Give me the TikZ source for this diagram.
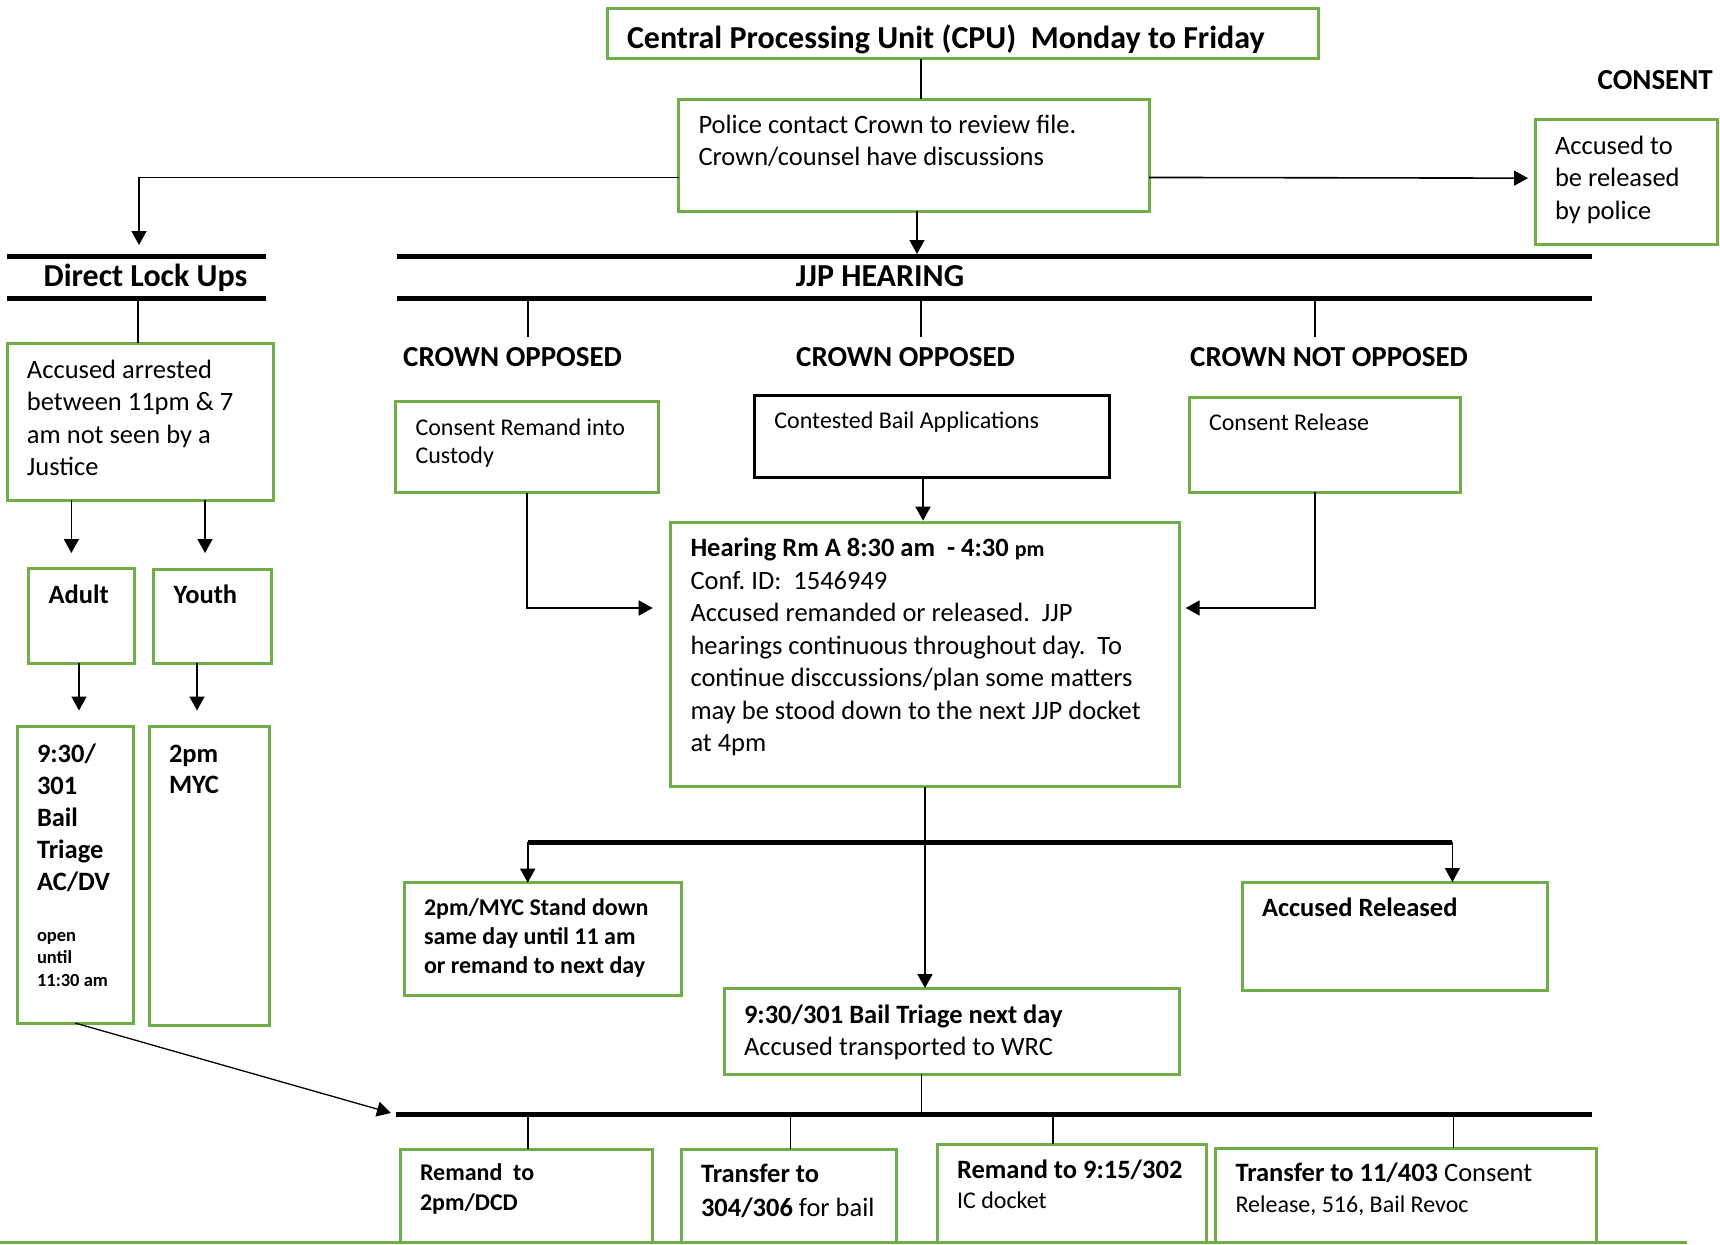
\documentclass[tikz,border=0pt]{standalone}
\usepackage{fontspec}
\setmainfont{Carlito}
\usetikzlibrary{arrows.meta}
\definecolor{boxgreen}{RGB}{112,173,71}
\newcommand{\bodytext}{\fontsize{26.5}{32.5}\selectfont}
\newcommand{\smalltext}{\fontsize{24}{29}\selectfont}
\newcommand{\tinytext}{\fontsize{18.5}{22.5}\selectfont}
\tikzstyle{gbox} = [rectangle, 
draw=boxgreen, 
line width=3pt, 
anchor=north west, 
outer sep=0pt, 
inner xsep=20pt, 
inner ysep=0pt, 
execute at begin node={\spaceskip=0pt\xspaceskip=0pt}, 
font=\bodytext]
\tikzstyle{kbox} = [gbox, draw=black]
\tikzstyle{heading} = [anchor=base west, 
inner xsep=0pt, 
inner ysep=10pt, 
font=\bfseries\fontsize{29}{35}\selectfont]
\tikzstyle{title} = [anchor=base, inner sep=0pt, font=\bfseries\fontsize{32}{38}\selectfont]
\tikzstyle{link} = [line width=1.6pt]
\tikzstyle{arrow} = [line width=1.6pt,->,>={Triangle[length=14pt,width=15pt]}]
\tikzstyle{bar} = [line width=5pt]

\begin{document}
\frenchspacing
\begin{tikzpicture}[x=1pt, y=-1pt]
		\useasboundingbox (0,0) rectangle (1720,1244);
	
		\node (cpu) [gbox, text width=671pt, text height=40pt, text depth=10pt, font=\bfseries\fontsize{32}{38}\selectfont] at (607,9) {Central Processing Unit (CPU)\ \ Monday to Friday};
		\node (police) [gbox, text width=430.5pt, text height=34pt, text depth=77.7pt] at (678.5,99.3) {Police contact Crown to review file.\\Crown/counsel have discussions};
		\node (consent) [heading, anchor=base east] at (1713,90) {CONSENT};
		\node (rel) [gbox, text width=142pt, text height=34pt, text depth=90.3pt] at (1535,120) {Accused to\\be released\\by police};
	
		\node (dlu) [title] at (145.5,286) {Direct Lock Ups};
		\node (jjp) [title] at (880,286) {JJP HEARING};
		\node (co1) [heading] at (403,366) {CROWN OPPOSED};
		\node (co2) [heading] at (796,366) {CROWN OPPOSED};
		\node (cno) [heading] at (1190,366) {CROWN NOT OPPOSED};
	
		% direct lock ups side
		\node (arrested) [gbox, text width=226pt, text height=35.3pt, text depth=121.7pt] at (7,343) {Accused arrested\\between 11pm \& 7\\am not seen by a\\Justice};
		\node (adult) [gbox, text width=65.4pt, text height=35.3pt, text depth=59.7pt, font=\bodytext\bfseries] at (28.6,568) {Adult};
		\node (youth) [gbox, text width=77.4pt, text height=34pt, text depth=60pt, font=\bodytext\bfseries] at (153.6,569) {Youth};
		\node (bail9) [gbox, text width=76pt, text height=36pt, text depth=261pt, font=\fontsize{26.5}{32}\selectfont\bfseries] at (17,726) {9:30/\\301\\Bail\\Triage\\AC/DV\par\vspace{28.5pt}{\tinytext open\\until\\11:30~am\par}};
		\node (myc2) [gbox, text width=80pt, text height=36pt, text depth=263pt, font=\fontsize{26.5}{31}\selectfont\bfseries] at (149,726) {2pm\\MYC};
	
		% jjp hearing side
		\node (coremand) [gbox, text width=223pt, text height=34pt, text depth=57.7pt, font=\fontsize{24}{28.5}\selectfont] at (395.5,401) {Consent Remand into\\Custody};
		\node (contested) [kbox, text width=314.6pt, text height=33pt, text depth=49.7pt, font=\smalltext] at (754.4,395) {Contested Bail Applications};
		\node (corelease) [gbox, text width=231.7pt, text height=32.7pt, text depth=62.3pt, font=\smalltext] at (1189,397.3) {Consent Release};
		\node (hearing) [gbox, text width=469pt, text height=34pt, text depth=230pt] at (670.5,522.7) {\textbf{Hearing Rm A 8:30 am\ \ - 4:30 {\fontsize{22}{32.5}\selectfont pm}}\\Conf. ID:\ \ 1546949\\Accused remanded or released.\ \ JJP\\hearings continuous throughout day.\ \ To\\continue disccussions/plan some matters\\may~be~stood~down~to~the~next~JJP~docket\\at 4pm};
		\node (stand) [gbox, text width=237pt, text height=32.3pt, text depth=80pt, font=\fontsize{24}{29.2}\selectfont\bfseries] at (404,882.7) {2pm/MYC Stand down\\same day until 11 am\\or remand to next day};
		\node (released) [gbox, text width=265pt, text height=34.7pt, text depth=74pt, font=\bodytext\bfseries] at (1242,882) {Accused Released};
		\node (nextday) [gbox, text width=415pt, text height=35pt, text depth=51pt, font=\fontsize{26.5}{32}\selectfont] at (724,988) {\textbf{9:30/301 Bail Triage next day}\\Accused transported to WRC};
	
		% bottom row
		\node (remdcd) [gbox, text width=212.5pt, text height=31.4pt, text depth=61.3pt, font=\fontsize{24}{30}\selectfont\bfseries] at (400,1149.3) {Remand\ \ to\\2pm/DCD};
		\node (xfer304) [gbox, text width=175.6pt, text height=33.4pt, text depth=59.3pt, font=\fontsize{26.5}{33.3}\selectfont] at (681,1149.3) {\textbf{Transfer to}\\\textbf{304/306}~for~bail};
		\node (rem915) [gbox, text width=229.7pt, text height=33.7pt, text depth=64pt, font=\fontsize{26.5}{30}\selectfont] at (937,1144.3) {\textbf{Remand~to~9:15/302}\\{\fontsize{24}{30}\selectfont IC docket}};
		\node (xfer403) [gbox, text width=341.2pt, text height=33.4pt, text depth=60.3pt, font=\fontsize{26.5}{30.3}\selectfont] at (1215.5,1148.3) {\textbf{Transfer to 11/403} Consent\\{\fontsize{24}{30.3}\selectfont Release, 516, Bail Revoc}};
	
		\coordinate (dluin) at (139,245);
		\coordinate (jjpin) at (917,254);
		\coordinate (dludrop) at (137.7,298.7);
		\coordinate (jdrop1) at (527.7,298.7);
		\coordinate (jdrop2) at (921,298.7);
		\coordinate (jdrop3) at (1314.7,298.7);
		\coordinate (adultin) at (71.4,553);
		\coordinate (youthin) at (205,553);
		\coordinate (bail9in) at (79,710.5);
		\coordinate (myc2in) at (197,710.5);
		\coordinate (hearinL) at (652.7,608);
		\coordinate (hearinR) at (1185.7,608);
		\coordinate (hearinT) at (923,520.7);
		\coordinate (midL) at (527.7,842);
		\coordinate (midR) at (1452.4,842);
		\coordinate (botin) at (391,1113);
		\coordinate (botmid) at (921.4,1114.3);
		\coordinate (bdrop1) at (528,1114.3);
		\coordinate (bdrop2) at (790.6,1114.3);
		\coordinate (bdrop3) at (1053,1114.3);
		\coordinate (bdrop4) at (1453.5,1114.3);
	
		% heading bars
		\draw [bar] (7,256.7) -- (265.5,256.7);
		\draw [bar] (7,298.7) -- (265.5,298.7);
		\draw [bar] (396.6,256.7) -- (1592,256.7);
		\draw [bar] (396.6,298.7) -- (1592,298.7);
		\draw [bar] (midL) -- (midR);
		\draw [bar] (396,1114.3) -- (1592,1114.3);
		\draw [boxgreen, line width=3pt] (0,1242) -- (1687,1242);
	
		\draw [link] (cpu.south -| jdrop2) -- (police.north -| jdrop2);
		\draw [arrow] ([yshift=-22.3pt]police.west) -| (dluin);
		\draw [arrow] ([yshift=-22.3pt]police.east) -- ([xshift=-7pt,yshift=4pt]rel.west);
		\draw [arrow] (police.south -| jjpin) -- (jjpin);
		\draw [link] (dludrop) -- (arrested.north -| dludrop);
		\draw [link] (jdrop1) -- (co1.north -| jdrop1);
		\draw [link] (jdrop2) -- (co2.north -| jdrop2);
		\draw [link] (jdrop3) -- (cno.north -| jdrop3);
	
		\draw [arrow] (arrested.south -| adultin) -- (adultin);
		\draw [arrow] (arrested.south -| youthin) -- (youthin);
		\draw [arrow] (adult.south -| bail9in) -- (bail9in);
		\draw [arrow] (youth.south -| myc2in) -- (myc2in);
		\draw [arrow, line width=1.3pt] (bail9.south) -- (botin);
	
		\draw [arrow] (coremand.south) |- (hearinL);
		\draw [arrow] ([xshift=-10pt]corelease.south) |- (hearinR);
		\draw [arrow] (contested.south -| hearinT) -- (hearinT);
		\draw [arrow] (hearing.south) -- (nextday.north -| hearing.south);
		\draw [arrow] (midL) -- (stand.north -| midL);
		\draw [arrow] (midR) -- (released.north -| midR);
		\draw [link] (nextday.south -| botmid) -- (botmid);
	
		\draw [link] (bdrop1) -- (remdcd.north -| bdrop1);
		\draw [link] (bdrop2) -- (xfer304.north -| bdrop2);
		\draw [link] (bdrop3) -- (rem915.north -| bdrop3);
		\draw [link] (bdrop4) -- (xfer403.north -| bdrop4);
	\end{tikzpicture}
\end{document}
